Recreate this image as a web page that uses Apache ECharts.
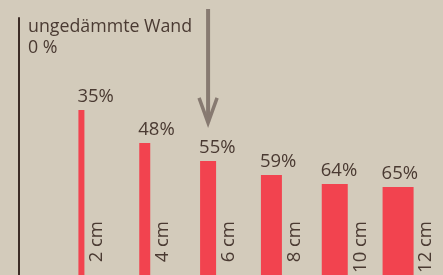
<!DOCTYPE html>
<html><head><meta charset="utf-8">
<script src="https://cdn.jsdelivr.net/npm/echarts@6/dist/echarts.min.js"></script>
<style>html,body{margin:0;padding:0;background:#d3cbbb;}#c{width:443px;height:275px;}</style>
</head><body><div id="c"></div>
<script>
// Data
var categories = ['2 cm', '4 cm', '6 cm', '8 cm', '10 cm', '12 cm'];
var thicknessCm = [2, 4, 6, 8, 10, 12];
var savingsPct = [35, 48, 55, 59, 64, 65];            // label values
var remainingLoss = [64.2, 51.4, 44.4, 38.9, 35.4, 34.2]; // bar heights (uninsulated = 100)
var titleLines = ['ungedämmte Wand', '0 %'];
var arrowIndex = 2;

var FONT = '"Open Sans", sans-serif';
var TXT = '#4a3a32';
var RED = '#f2434f';

var chart = echarts.init(document.getElementById('c'));
var data = categories.map(function (c, i) { return [i, remainingLoss[i], thicknessCm[i], savingsPct[i]]; });

chart.setOption({
  backgroundColor: '#d3cbbb',
  animation: false,
  title: {
    text: titleLines.join('\n'), left: 23, top: 11,
    textStyle: { fontFamily: FONT, fontSize: 17.8, fontWeight: 'normal', color: TXT, lineHeight: 21 }
  },
  grid: { left: 48, width: 365, top: 18, bottom: 0 },
  xAxis: { type: 'category', data: categories, show: false },
  yAxis: {
    type: 'value', min: 0, max: 100, offset: 29,
    axisLine: { show: true, lineStyle: { color: '#3c2c26', width: 2 } },
    axisTick: { show: false }, axisLabel: { show: false }, splitLine: { show: false }
  },
  series: [{
    type: 'custom',
    data: data,
    renderItem: function (params, api) {
      var base = api.coord([api.value(0), 0]);
      var top = api.coord([api.value(0), api.value(1)]);
      var w = 1 + 2.5 * api.value(2);
      var x0 = base[0];
      var children = [
        { type: 'rect', shape: { x: x0, y: top[1], width: w, height: base[1] - top[1] }, style: { fill: RED } },
        { type: 'text', x: x0 - 1, y: top[1] - 4,
          style: { text: api.value(3) + '%', fill: TXT, font: '18.5px ' + FONT, align: 'left', verticalAlign: 'bottom' } },
        { type: 'text', x: x0 + w + 3, y: 221, rotation: Math.PI / 2,
          style: { text: categories[params.dataIndex], fill: TXT, font: '18.5px ' + FONT, align: 'right', verticalAlign: 'top' } }
      ];
      if (params.dataIndex === arrowIndex) {
        var cx = x0 + w / 2;
        var tipY = top[1] - 37;
        children.push({ type: 'line', shape: { x1: cx, y1: 9, x2: cx, y2: tipY - 2 }, style: { stroke: '#877a71', lineWidth: 4 } });
        children.push({ type: 'polyline', shape: { points: [[cx - 9, tipY - 26], [cx, tipY - 1], [cx + 9, tipY - 26]] },
          style: { stroke: '#877a71', lineWidth: 3.5, fill: null } });
      }
      return { type: 'group', children: children };
    }
  }]
});
</script></body></html>
